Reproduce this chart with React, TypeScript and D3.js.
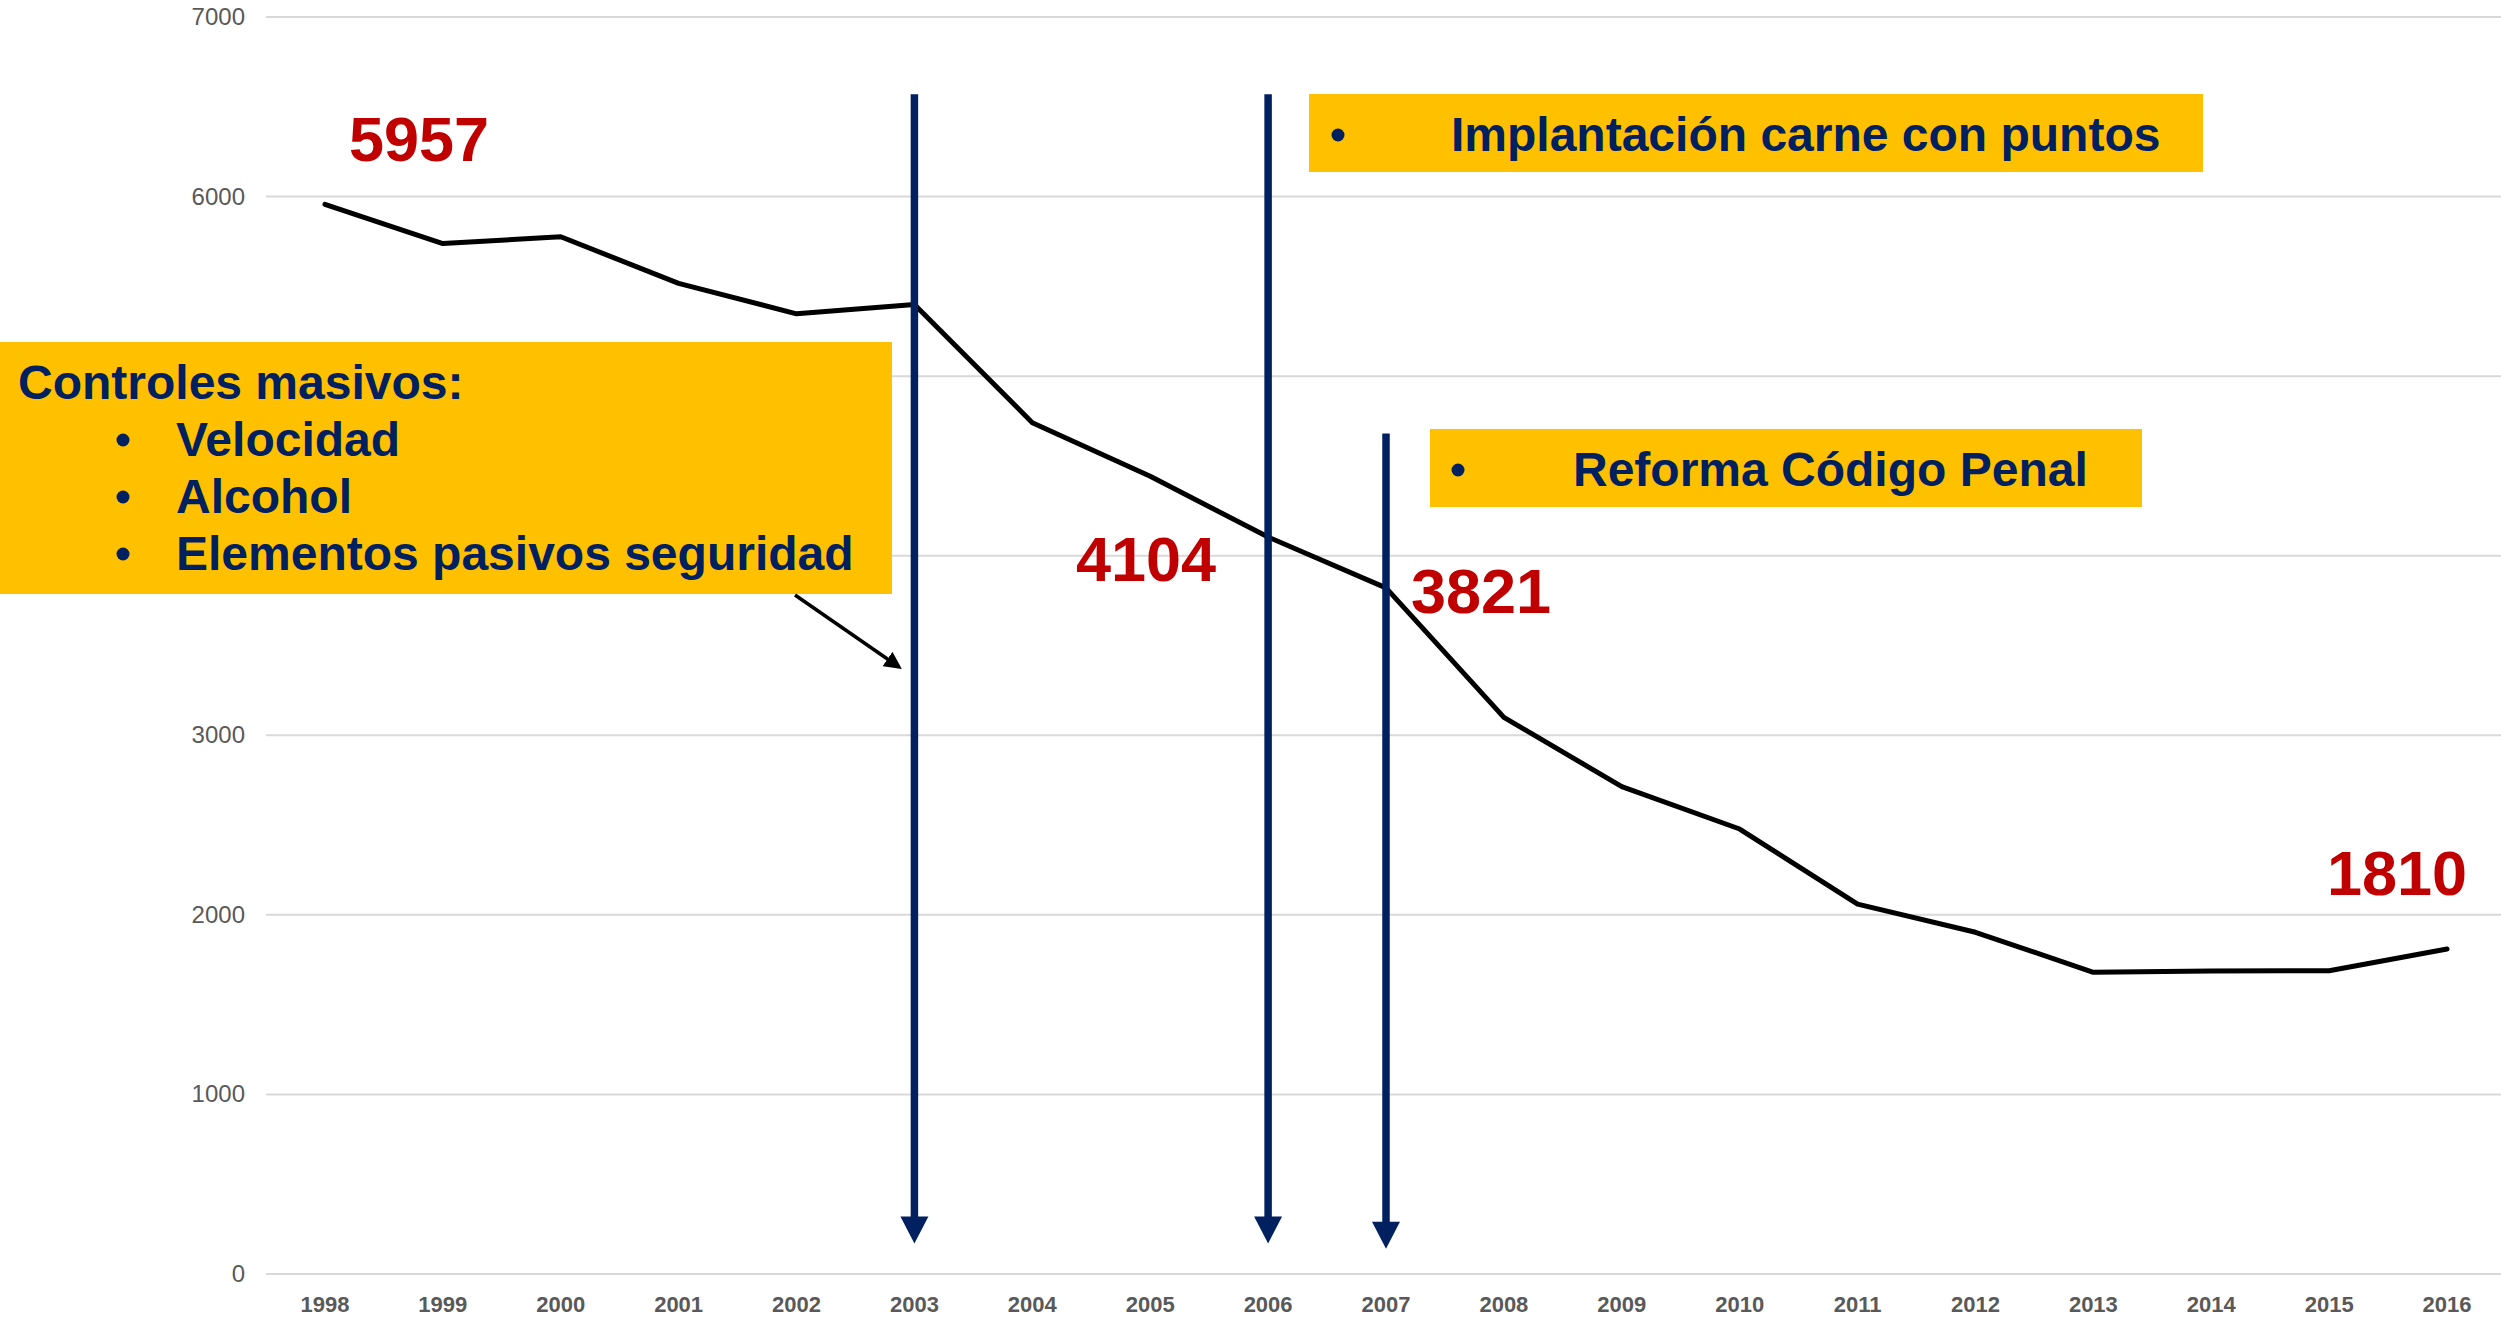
import * as d3 from "d3";
import { useEffect, useRef } from "react";

// fallecidos por año (lectura del gráfico)
const years = [1998, 1999, 2000, 2001, 2002, 2003, 2004, 2005, 2006, 2007, 2008, 2009, 2010, 2011, 2012, 2013, 2014, 2015, 2016];
const deaths = [5957, 5738, 5776, 5517, 5347, 5399, 4741, 4442, 4104, 3821, 3100, 2714, 2478, 2060, 1903, 1680, 1688, 1689, 1810];
const yTicks = [0, 1000, 2000, 3000, 4000, 5000, 6000, 7000];
const labelYears = [1998, 2006, 2007, 2016];
const arrowYears = [2003, 2006, 2007];
const arrowTop = [6570, 6570, 4680];
const arrowTip = [170, 170, 140];
const controles = ["Velocidad", "Alcohol", "Elementos pasivos seguridad"];

const W = 2501;
const H = 1327;
const FONT = "'Liberation Sans', Arial, sans-serif";
const NAVY = "#002060";
const YELLOW = "#FFC000";
const RED = "#C00000";

export default function App() {
  const ref = useRef<SVGSVGElement>(null);

  useEffect(() => {
    document.body.style.margin = "0";
    document.body.style.overflow = "hidden";
    const svg = d3.select(ref.current);
    svg.selectAll("*").remove();

    const x = d3.scalePoint<number>().domain(years).range([266, 2506]).padding(0.5);
    const y = d3.scaleLinear().domain([0, 7000]).range([1274, 17]);

    // caja grande de la izquierda (tapa las etiquetas 4000 y 5000)
    const bigBox = { x: 0, y: 342, w: 892, h: 252 };

    //grid
    svg.selectAll(".grid").data(yTicks).enter().append("line")
      .attr("x1", 266).attr("x2", W)
      .attr("y1", d => y(d)).attr("y2", d => y(d))
      .attr("stroke", "#D9D9D9").attr("stroke-width", 2);

    svg.selectAll(".ylab")
      .data(yTicks.filter(d => y(d) < bigBox.y || y(d) > bigBox.y + bigBox.h))
      .enter().append("text")
      .attr("x", 245).attr("y", d => y(d) + 8)
      .attr("text-anchor", "end")
      .style("font", "24px " + FONT).style("fill", "#595959")
      .text(d => d);

    svg.selectAll(".xlab").data(years).enter().append("text")
      .attr("x", d => x(d)!).attr("y", 1312)
      .attr("text-anchor", "middle")
      .style("font", "bold 22px " + FONT).style("fill", "#595959")
      .text(d => d);

    // serie
    const line = d3.line<number>().x((d, i) => x(years[i])!).y(d => y(d));
    svg.append("path").datum(deaths)
      .attr("d", line)
      .attr("fill", "none").attr("stroke", "black").attr("stroke-width", 5)
      .attr("stroke-linejoin", "round").attr("stroke-linecap", "round");

    // flechas verticales
    arrowYears.forEach((yr, i) => {
      const cx = x(yr)!;
      const tip = y(arrowTip[i]);
      const base = tip - 27;
      svg.append("line")
        .attr("x1", cx).attr("x2", cx)
        .attr("y1", y(arrowTop[i])).attr("y2", base + 1)
        .attr("stroke", NAVY).attr("stroke-width", 7.5);
      svg.append("path")
        .attr("d", `M${cx - 14},${base}L${cx + 14},${base}L${cx},${tip}Z`)
        .attr("fill", NAVY);
    });

    const bullet = (g: any, cx: number, cy: number) =>
      g.append("circle").attr("cx", cx).attr("cy", cy).attr("r", 6.5).attr("fill", NAVY);

    // cajas
    const box1 = svg.append("g");
    box1.append("rect").attr("x", 1309).attr("y", 94).attr("width", 894).attr("height", 78).attr("fill", YELLOW);
    bullet(box1, 1338, 135);
    box1.append("text").attr("x", 1451).attr("y", 151)
      .style("font", "bold 48px " + FONT).style("fill", NAVY).text("Implantación carne con puntos");

    const box2 = svg.append("g");
    box2.append("rect").attr("x", 1430).attr("y", 429).attr("width", 712).attr("height", 78).attr("fill", YELLOW);
    bullet(box2, 1458, 470);
    box2.append("text").attr("x", 1573).attr("y", 486)
      .style("font", "bold 48px " + FONT).style("fill", NAVY).text("Reforma Código Penal");

    const box3 = svg.append("g");
    box3.append("rect").attr("x", bigBox.x).attr("y", bigBox.y).attr("width", bigBox.w).attr("height", bigBox.h).attr("fill", YELLOW);
    box3.append("text").attr("x", 18).attr("y", 399)
      .style("font", "bold 48px " + FONT).style("fill", NAVY).text("Controles masivos:");
    controles.forEach((c, i) => {
      bullet(box3, 123, 440 + i * 57);
      box3.append("text").attr("x", 176).attr("y", 456 + i * 57)
        .style("font", "bold 48px " + FONT).style("fill", NAVY).text(c);
    });

    // flecha negra
    svg.append("defs").append("marker")
      .attr("id", "head").attr("viewBox", "0 0 10 10").attr("refX", 8).attr("refY", 5)
      .attr("markerWidth", 5).attr("markerHeight", 5).attr("orient", "auto")
      .append("path").attr("d", "M0,0L10,5L0,10Z").attr("fill", "black");
    svg.append("line")
      .attr("x1", 795).attr("y1", 595).attr("x2", 899).attr("y2", 667)
      .attr("stroke", "black").attr("stroke-width", 3.5).attr("marker-end", "url(#head)");

    // etiquetas de valores
    const off: Record<number, [number, number, string]> = {
      1998: [24, -43, "start"],
      2006: [-52, 44, "end"],
      2007: [25, 25, "start"],
      2016: [20, -54, "end"],
    };
    svg.selectAll(".vlab").data(labelYears).enter().append("text")
      .attr("x", d => x(d)! + off[d][0])
      .attr("y", d => y(deaths[years.indexOf(d)]) + off[d][1])
      .attr("text-anchor", d => off[d][2])
      .style("font", "bold 63px " + FONT).style("fill", RED)
      .text(d => deaths[years.indexOf(d)]);
  }, []);

  return (
    <svg ref={ref} width={W} height={H} style={{ position: "absolute", left: 0, top: 0, background: "white" }} />
  );
}
